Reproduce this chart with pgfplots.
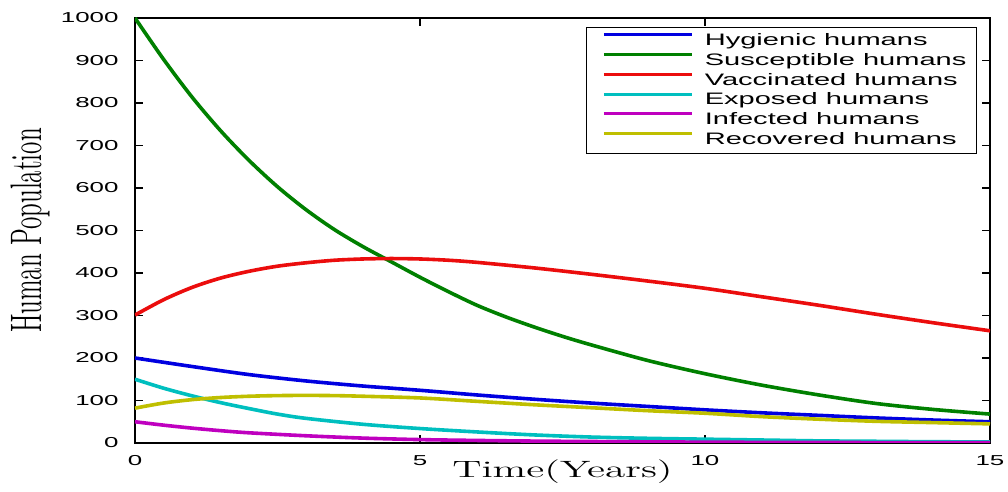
\documentclass[border=0pt]{standalone}
\usepackage{fontspec}
\setsansfont{Liberation Sans}
\usepackage{pgfplots}
\pgfplotsset{compat=1.18}
\definecolor{mblue}{rgb}{0,0,0.88}
\definecolor{mgreen}{rgb}{0,0.5,0}
\definecolor{mred}{rgb}{0.92,0.05,0.05}
\definecolor{mcyan}{rgb}{0,0.75,0.75}
\definecolor{mmag}{rgb}{0.75,0,0.75}
\definecolor{myel}{rgb}{0.75,0.75,0}
\begin{document}
\begin{tikzpicture}
\path[use as bounding box] (-67.5pt,-24.5pt) rectangle (436.5pt,221.5pt);
\begin{axis}[
  scale only axis, width=427.5pt, height=212.5pt,
  xmin=0, xmax=15, ymin=0, ymax=1000,
  xtick={0,5,10,15}, ytick={0,100,...,1000},
  /pgf/number format/1000 sep={},
  tick align=inside, major tick length=4pt,
  axis line style={black, line width=0.6pt},
  every tick/.style={black, line width=0.6pt},
  tick label style={font=\sffamily\fontsize{7.2}{8}\selectfont},
  yticklabel={\scalebox{1.8}[1]{\pgfmathprintnumber[assume math mode=true]{\tick}}},
  xticklabel={\scalebox{1.8}[1]{\pgfmathprintnumber[assume math mode=true]{\tick}}},
  yticklabel style={xshift=-4.7pt},
  xticklabel style={yshift=-2.7pt},
  xlabel={\scalebox{1.75}[1]{Time(Years)}},
  ylabel={\scalebox{1}[1.75]{Human Population}},
  xlabel style={at={(axis description cs:0.5,0)}, anchor=base, yshift=-17.5pt, font=\fontsize{11.8}{13}\selectfont, inner sep=0pt},
  ylabel style={at={(axis description cs:-0.1099,0.5)}, anchor=base, font=\fontsize{12.6}{14}\selectfont, inner sep=0pt},
  legend cell align=left,
  legend image code/.code={\path[draw=none] (0pt,0pt) -- (49pt,0pt); \draw[#1, line width=1.5pt] (3.5pt,3.2pt) -- (47.5pt,3.2pt);},
  legend style={at={(rel axis cs:1,1)}, anchor=north east, xshift=-6.5pt, yshift=-4.5pt,
    draw=black, line width=0.6pt, inner xsep=5pt, inner ysep=2.5pt, row sep=1.4pt, column sep=5pt,
    font=\sffamily\fontsize{8.3}{9}\selectfont,
    nodes={inner sep=0pt, text height=6.5pt, text depth=2pt}},
  every axis plot/.append style={line width=1.8pt, smooth},
]
\addplot[mblue] coordinates {(0,200)(1,180)(2,161)(3,146)(4,134)(5,124)(6,113)(7,103)(8,94)(9,86)(10,78)(11,71)(12,65)(13,59)(14,54)(15,50)};
\addlegendentry{\scalebox{1.75}[1]{Hygienic humans}}
\addplot[mgreen] coordinates {(0,1000)(0.5,903)(1,814)(1.5,735)(2,665)(2.5,603)(3,549)(3.5,502)(4,462)(4.5,426)(5,390)(5.5,356)(6,324)(6.5,297)(7,273)(7.5,251)(8,231)(9,194)(10,163)(11,136)(12,113)(13,93)(14,79)(15,68)};
\addlegendentry{\scalebox{1.75}[1]{Susceptible humans}}
\addplot[mred] coordinates {(0,301)(0.5,337)(1,366)(1.5,388)(2,404)(2.5,416)(3,424)(3.5,430)(4,433)(4.5,434)(5,433)(5.5,430)(6,425)(7,412)(8,397)(9,381)(10,364)(11,344)(12,324)(13,303)(14,283)(15,264)};
\addlegendentry{\scalebox{1.75}[1]{Vaccinated humans}}
\addplot[mcyan] coordinates {(0,150)(0.5,129)(1,111)(1.5,95)(2,81)(2.5,68)(3,58)(4,44)(5,34)(6,26)(7,19)(8,14)(9,11)(10,9)(11,7)(12,5)(13,4)(14,3)(15,2.5)};
\addlegendentry{\scalebox{1.75}[1]{Exposed humans}}
\addplot[mmag] coordinates {(0,50)(0.5,42)(1,35)(1.5,29)(2,24)(3,17)(4,11.5)(5,8)(6,6)(7,4.5)(8,3.5)(9,2.7)(10,2)(11,1.5)(12,1.2)(13,1)(14,0.8)(15,0.6)};
\addlegendentry{\scalebox{1.75}[1]{Infected humans}}
\addplot[myel] coordinates {(0,82)(0.5,94)(1,102)(1.5,107)(2,110)(2.5,111.5)(3,112)(3.5,111.5)(4,110)(5,106)(6,98)(7,90)(8,83)(9,76)(10,70)(11,62)(12,56)(13,51)(14,48)(15,45)};
\addlegendentry{\scalebox{1.75}[1]{Recovered humans}}
\end{axis}
\end{tikzpicture}
\end{document}
